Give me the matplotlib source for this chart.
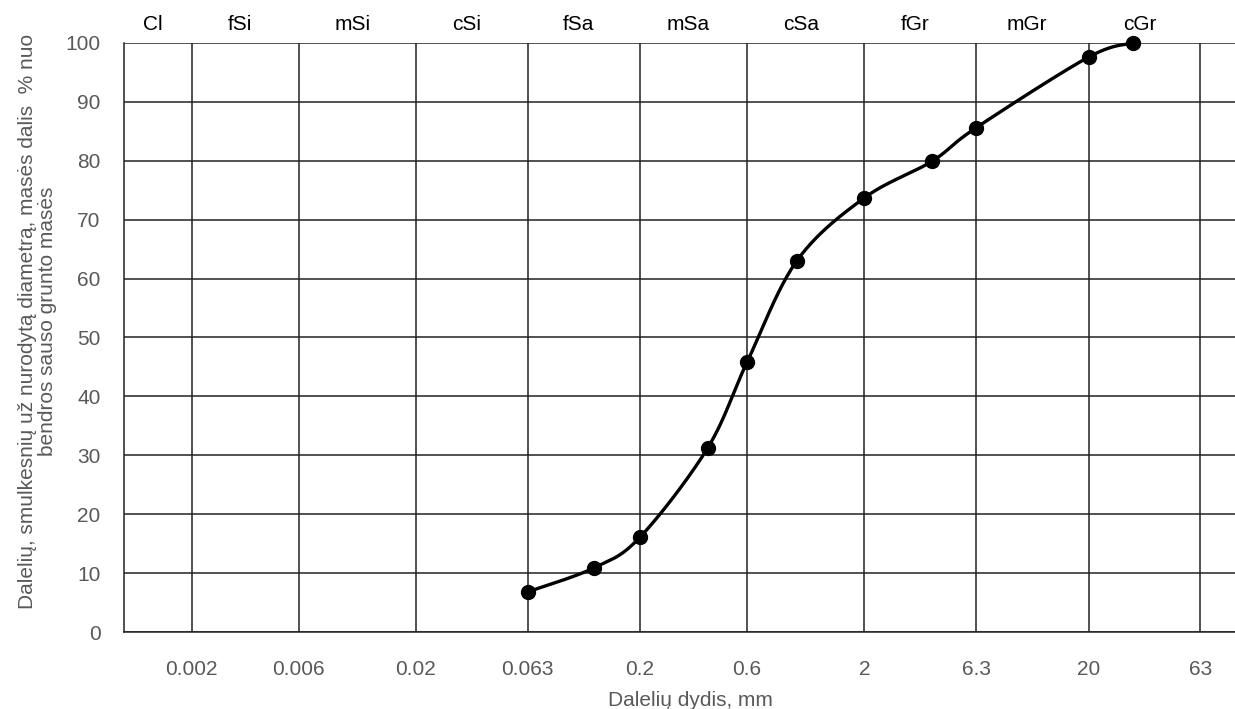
import numpy as np
import matplotlib
matplotlib.use("Agg")
import matplotlib.pyplot as plt
import matplotlib.transforms as mtransforms

plt.rcParams['font.family'] = ['Liberation Sans', 'DejaVu Sans']

# grading curve
sizes = [0.063, 0.125, 0.2, 0.4, 0.6, 1.0, 2.0, 4.0, 6.3, 20.0, 31.5]
passing = [6.8, 10.9, 16.1, 31.2, 45.8, 63.0, 73.7, 79.9, 85.6, 97.6, 100.0]

# soil fraction boundaries and names
bounds = [0.001, 0.002, 0.006, 0.02, 0.063, 0.2, 0.6, 2, 6.3, 20, 63]
tick_labels = ['0.002', '0.006', '0.02', '0.063', '0.2', '0.6', '2', '6.3', '20', '63']
fractions = ['Cl', 'fSi', 'mSi', 'cSi', 'fSa', 'mSa', 'cSa', 'fGr', 'mGr', 'cGr']

GRAY = '#595959'


def smooth(xs, ys, n=40):
    # catmull-rom through points in (log x, y) space, like excel's smoothed line
    px = np.log10(xs) * 224.0
    py = np.array(ys) * 5.89
    P = np.column_stack([px, py])
    P = np.vstack([P[0], P, P[-1]])
    out = []
    for i in range(1, len(P) - 2):
        p0, p1, p2, p3 = P[i - 1], P[i], P[i + 1], P[i + 2]
        c1 = p1 + (p2 - p0) / 6
        c2 = p2 - (p3 - p1) / 6
        t = np.linspace(0, 1, n)[:, None]
        seg = ((1 - t) ** 3) * p1 + 3 * ((1 - t) ** 2) * t * c1 + 3 * (1 - t) * t ** 2 * c2 + t ** 3 * p2
        out.append(seg if i == 1 else seg[1:])
    out = np.vstack(out)
    return 10 ** (out[:, 0] / 224.0), out[:, 1] / 5.89


fig = plt.figure(figsize=(12.35, 7.09), dpi=100)
ax = fig.add_axes([124 / 1235, 77 / 709, 1 - 124 / 1235, 589 / 709])

ax.set_xscale('log')
ax.set_xlim(0.001, 90)
ax.set_ylim(0, 100)

ax.set_xticks(bounds[1:])
ax.set_xticklabels(tick_labels)
ax.xaxis.set_minor_locator(matplotlib.ticker.NullLocator())
ax.set_yticks(np.arange(0, 101, 10))
ax.tick_params(axis='both', length=0, labelsize=15, labelcolor=GRAY)
ax.tick_params(axis='x', pad=20)
ax.tick_params(axis='y', pad=17)

ax.grid(True, color='#222222', linewidth=1.1)
ax.set_axisbelow(True)
for s in ['top', 'right']:
    ax.spines[s].set_visible(False)
for s in ['left', 'bottom']:
    ax.spines[s].set_color('#222222')
    ax.spines[s].set_linewidth(1.1)

sx, sy = smooth(sizes, passing)
ax.plot(sx, sy, color='black', linewidth=2.4, clip_on=False, zorder=3)
ax.plot(sizes, passing, 'o', color='black', markersize=10, clip_on=False, zorder=4)

trans = mtransforms.blended_transform_factory(ax.transData, ax.transAxes)
for lo, hi, name in zip(bounds[:-1], bounds[1:], fractions):
    xm = np.sqrt(lo * hi) * 0.95
    ax.text(xm, 1.031, name, transform=trans, ha='center', va='center',
            fontsize=15, color='black')

ax.set_xlabel('Dalelių dydis, mm', fontsize=15, color=GRAY)
ax.xaxis.set_label_coords(0.51, -0.1)
ax.set_ylabel('Dalelių, smulkesnių už nurodytą diametrą, masės dalis  % nuo\nbendros sauso grunto masės',
              fontsize=15, color=GRAY, linespacing=1.1)
ax.yaxis.set_label_coords(-0.06, 0.527)

fig.savefig('out.png', dpi=100)
